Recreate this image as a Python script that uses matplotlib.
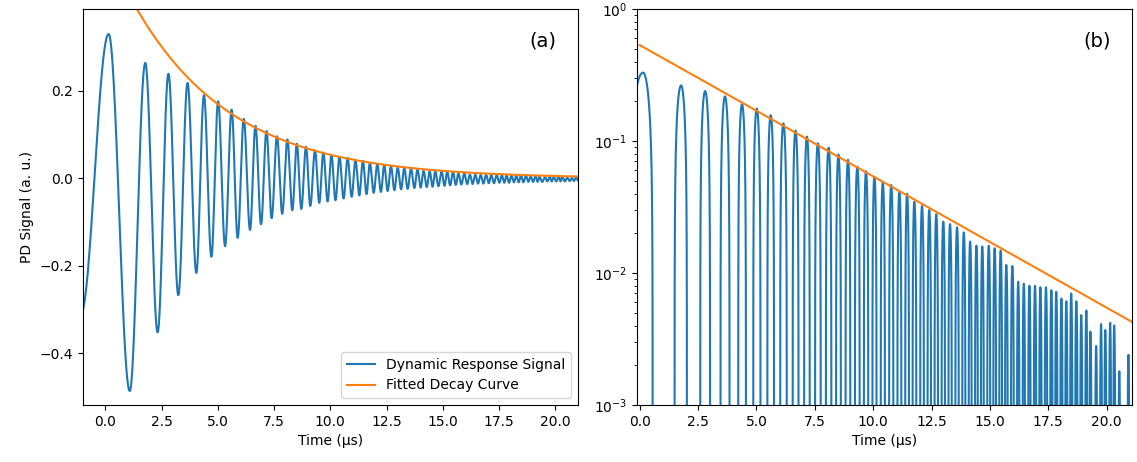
import numpy as np
import matplotlib
matplotlib.use("Agg")
import matplotlib.pyplot as plt

# Maxima of the PD signal (time in us, signal in a.u.)
peak_t = [0.14, 1.77, 2.80, 3.65, 4.38, 5.01, 5.61, 6.15, 6.67, 7.16,
          7.63, 8.09, 8.51, 8.92, 9.32, 9.69, 10.05, 10.41, 10.77, 11.12,
          11.45, 11.76, 12.09, 12.40, 12.70, 13.00, 13.29, 13.59, 13.88, 14.15,
          14.42, 14.67, 14.95, 15.20, 15.46, 15.70, 15.96, 16.21, 16.45, 16.69,
          16.93, 17.16, 17.40, 17.63, 17.84, 18.06, 18.27, 18.48, 18.70, 18.91,
          19.13, 19.30, 19.55, 19.76, 19.94, 20.15, 20.32, 20.54, 20.75, 20.93]
peak_v = [0.330, 0.264, 0.239, 0.218, 0.190, 0.176, 0.157, 0.136, 0.120, 0.108,
          0.096, 0.089, 0.079, 0.072, 0.064, 0.059, 0.0537, 0.0486, 0.0464, 0.0408,
          0.0399, 0.0347, 0.0322, 0.0300, 0.0279, 0.0245, 0.0235, 0.0222, 0.0203, 0.0173,
          0.0161, 0.0159, 0.0161, 0.0154, 0.0148, 0.0115, 0.0113, 0.0086, 0.0083, 0.0080,
          0.0080, 0.0078, 0.0078, 0.0074, 0.0072, 0.0064, 0.0061, 0.0070, 0.0061, 0.0048,
          0.0052, 0.0036, 0.0028, 0.0041, 0.0037, 0.0042, 0.0040, 0.0018, 0.0008, 0.0024]

# Minima of the PD signal
trough_t = [-1.10, 1.08, 2.32, 3.24, 4.04, 4.71, 5.32, 5.88, 6.43, 6.92,
            7.39, 7.86, 8.31, 8.71, 9.11, 9.51, 9.88, 10.23, 10.59, 10.95,
            11.29, 11.61, 11.93, 12.25, 12.55, 12.85, 13.15, 13.44, 13.74, 14.02,
            14.29, 14.55, 14.81, 15.08, 15.33, 15.58, 15.83, 16.09, 16.33, 16.57,
            16.81, 17.05, 17.28, 17.52, 17.74, 17.95, 18.17, 18.38, 18.59, 18.81,
            19.02, 19.22, 19.43, 19.66, 19.85, 20.05, 20.24, 20.43, 20.65, 20.84,
            21.03]
trough_v = [-0.310, -0.486, -0.352, -0.267, -0.216, -0.179, -0.155, -0.136, -0.118, -0.105,
            -0.091, -0.081, -0.073, -0.070, -0.063, -0.056, -0.053, -0.050, -0.046, -0.042,
            -0.039, -0.036, -0.033, -0.031, -0.029, -0.027, -0.025, -0.024, -0.022, -0.021,
            -0.020, -0.019, -0.018, -0.017, -0.016, -0.015, -0.014, -0.013, -0.013, -0.012,
            -0.012, -0.011, -0.011, -0.010, -0.010, -0.010, -0.009, -0.009, -0.009, -0.008,
            -0.008, -0.008, -0.008, -0.007, -0.007, -0.007, -0.007, -0.007, -0.006, -0.006,
            -0.006]

# Fitted decay curve A*exp(-t/tau)
fit_A = 0.533
fit_tau = 4.366

# signal: half-cosine between consecutive extrema
ext_t = np.array(peak_t + trough_t)
ext_v = np.array(peak_v + trough_v)
order = np.argsort(ext_t)
ext_t = ext_t[order]
ext_v = ext_v[order]

t = np.linspace(ext_t[0], ext_t[-1], 30000)
idx = np.clip(np.searchsorted(ext_t, t) - 1, 0, len(ext_t) - 2)
s = (t - ext_t[idx]) / (ext_t[idx + 1] - ext_t[idx])
sig = ext_v[idx] + (ext_v[idx + 1] - ext_v[idx]) * (1 - np.cos(np.pi * s)) / 2

t_fit = np.linspace(0, 21.2, 500)
fit = fit_A * np.exp(-t_fit / fit_tau)

fig = plt.figure(figsize=(11.37, 4.62), dpi=100)
ax1 = fig.add_axes([0.073, 0.1234, 0.435, 0.857])
ax2 = fig.add_axes([0.56, 0.1234, 0.4353, 0.857])

ax1.plot(t, sig, color='tab:blue', lw=1.5, label='Dynamic Response Signal')
ax1.plot(t_fit, fit, color='tab:orange', lw=1.5, label='Fitted Decay Curve')
ax1.set_xlim(-1, 21)
ax1.set_ylim(-0.518, 0.387)
ax1.set_xlabel('Time (μs)')
ax1.set_ylabel('PD Signal (a. u.)')
ax1.legend(loc='lower right')
ax1.text(0.93, 0.92, '(a)', transform=ax1.transAxes, fontsize=14,
         ha='center', va='center')

# negative part drops below the bottom of the log axis
sig_pos = np.clip(sig, 1e-7, None)
ax2.plot(t, sig_pos, color='tab:blue', lw=1.5)
ax2.plot(t_fit, fit, color='tab:orange', lw=1.5)
ax2.set_yscale('log')
ax2.set_xlim(-0.13, 21.07)
ax2.set_ylim(1e-3, 1)
ax2.set_xlabel('Time (μs)')
ax2.text(0.93, 0.92, '(b)', transform=ax2.transAxes, fontsize=14,
         ha='center', va='center')

fig.savefig('out.png', dpi=100)
